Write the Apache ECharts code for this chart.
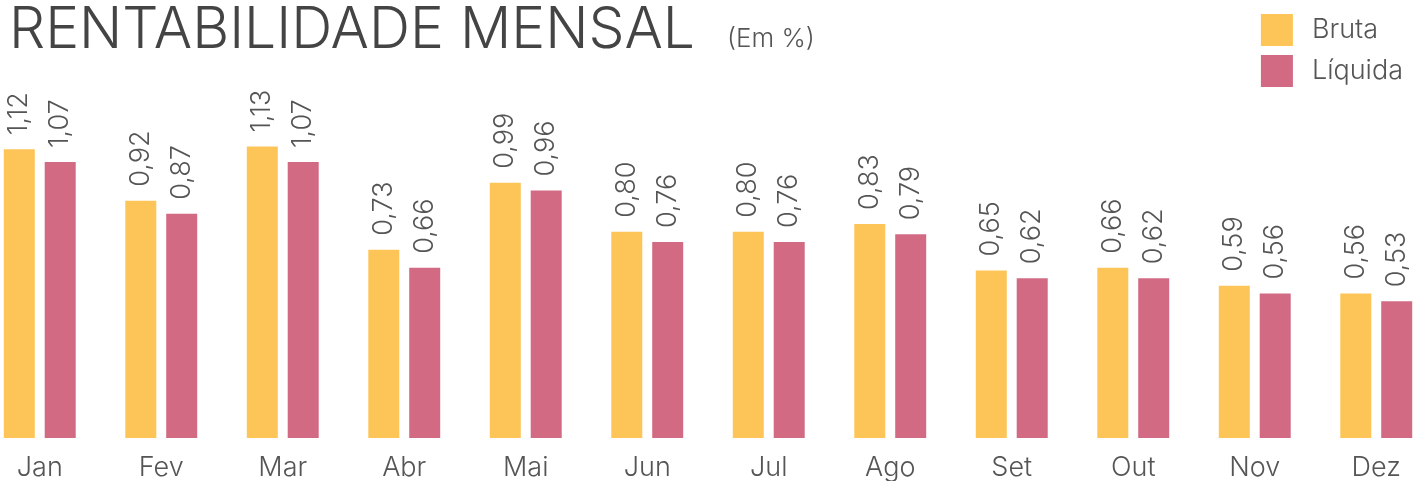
<!DOCTYPE html>
<html>
	<head>
		<meta charset="utf-8">
		<title>Rentabilidade Mensal</title>
		<script src="https://cdn.jsdelivr.net/npm/echarts@6/dist/echarts.min.js"></script>
		<style>
			html, body { margin: 0; padding: 0; background: #fff; }
			.chart { width: 1426px; height: 481px; }
		</style>
	</head>
	<body>
		<div class="chart"></div>
		<script>
			var meses = ['Jan', 'Fev', 'Mar', 'Abr', 'Mai', 'Jun', 'Jul', 'Ago', 'Set', 'Out', 'Nov', 'Dez'];
			var bruta = [1.12, 0.92, 1.13, 0.73, 0.99, 0.80, 0.80, 0.83, 0.65, 0.66, 0.59, 0.56];
			var liquida = [1.07, 0.87, 1.07, 0.66, 0.96, 0.76, 0.76, 0.79, 0.62, 0.62, 0.56, 0.53];

			var fonte = 'Inter, "Open Sans", sans-serif';
			var chart = echarts.init(document.querySelector('.chart'));

			// rotulo vertical com virgula decimal
			var rotulo = {
				show: true,
				position: 'top',
				rotate: 90,
				align: 'left',
				verticalAlign: 'middle',
				distance: 14,
				fontFamily: fonte,
				fontSize: 27,
				fontWeight: 300,
				color: '#555',
				formatter: function (p) {
					return p.value.toFixed(2).replace('.', ',');
				}
			};

			chart.setOption({
				animation: false,
				title: {
					left: 4,
					top: -8,
					text: '{a|RENTABILIDADE MENSAL}  {b|(Em %)}',
					textStyle: {
						rich: {
							a: { fontFamily: fonte, fontSize: 57, fontWeight: 300, color: '#444', lineHeight: 68 },
							b: { fontFamily: fonte, fontSize: 26, fontWeight: 300, color: '#555', padding: [16, 0, 0, 22] }
						}
					}
				},
				legend: {
					right: 18,
					top: 9,
					orient: 'vertical',
					itemWidth: 32,
					itemHeight: 32,
					itemGap: 9,
					icon: 'rect',
					textStyle: { fontFamily: fonte, fontSize: 27, fontWeight: 300, color: '#555', padding: [0, 0, 0, 14] },
					data: ['Bruta', 'Líquida']
				},
				grid: { left: -21, right: -11, top: 77, bottom: 43, outerBoundsMode: 'none' },
				xAxis: {
					type: 'category',
					data: meses,
					axisLine: { show: false },
					axisTick: { show: false },
					axisLabel: { fontFamily: fonte, fontSize: 27, fontWeight: 300, color: '#555', margin: 16 }
				},
				yAxis: {
					type: 'value',
					min: 0,
					max: 1.4,
					show: false,
					splitLine: { show: false }
				},
				series: [
					{
						name: 'Bruta',
						type: 'bar',
						data: bruta,
						barWidth: 31,
						barGap: '32%',
						itemStyle: { color: '#FDC558' },
						label: rotulo
					},
					{
						name: 'Líquida',
						type: 'bar',
						data: liquida,
						barWidth: 31,
						itemStyle: { color: '#D26A84' },
						label: rotulo
					}
				]
			});
		</script>
	</body>
</html>
